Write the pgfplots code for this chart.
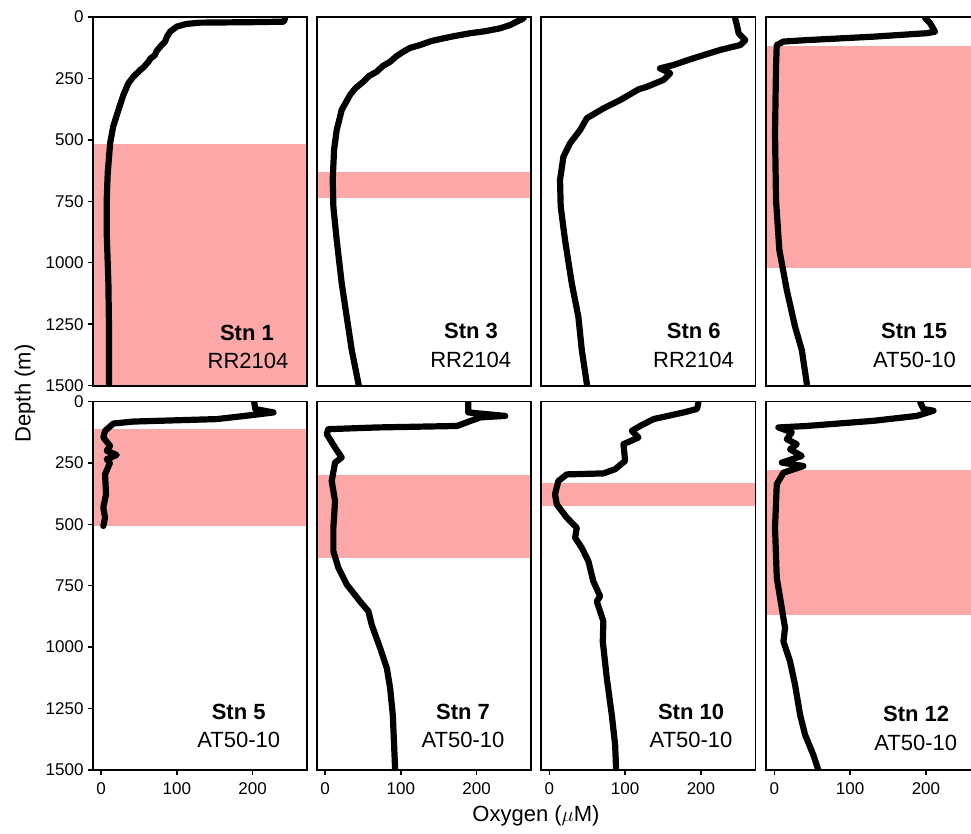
\documentclass[border=0pt]{standalone}
\usepackage{pgfplots}
\pgfplotsset{compat=1.18}
\usepackage{fontspec}
\setmainfont{Liberation Sans}

\definecolor{omz}{RGB}{252,168,169}

\pgfplotsset{
  panel/.style={
    scale only axis, width=214.5pt, height=368.6pt,
    anchor=south west,
    xmin=-11, xmax=272, ymin=0, ymax=1500, y dir=reverse,
    axis on top, clip=true,
    axis line style={line width=1.8pt, black},
    tick style={line width=1.4pt, black},
    tick align=outside, major tick length=5pt,
    xtick pos=bottom, ytick pos=left,
    xtick={0,100,200}, ytick={0,250,...,1500},
    /pgf/number format/assume math mode=true,
    /pgf/number format/1000 sep={},
    tick label style={font=\fontsize{17}{17}\selectfont, black},
    yticklabel style={inner sep=0pt, xshift=-4pt},
    xticklabel style={inner sep=0pt, yshift=-7pt},
  },
  inner/.style={xtick=\empty},
  noleft/.style={ytick=\empty},
  profile/.style={black, line width=6.2pt, line join=round, line cap=round},
  zone/.style={draw=none, fill=omz},
}
\newcommand{\stn}[5]{%
  \node[font=\fontsize{22}{22}\selectfont\bfseries] at (axis cs:#1,#2) {Stn #5};
  \node[font=\fontsize{22}{22}\selectfont] at (axis cs:#3,#4) {\csname stncruise\endcsname};}

\begin{document}
\begin{tikzpicture}
\useasboundingbox (0pt,0pt) rectangle (971pt,833pt);
\clip (0pt,0pt) rectangle (971pt,833pt);

% ---------------- top row ----------------
% Stn 1
\begin{axis}[panel, inner, at={(92.7pt,447.4pt)}]
\addplot[zone] coordinates {(-20,518) (300,518) (300,1500) (-20,1500)} -- cycle;
\addplot[profile] coordinates {
(243,5) (241,19) (200,21) (131,23) (113,28) (100,39) (91,60) (87,80)
(84.5,100) (78,121) (73,140) (71,155) (65,170) (62.5,182) (56,205) (51.5,216)
(42.7,243) (36,270) (29.5,317) (23,378) (16,446) (12,514) (8.8,636)
(7.5,745) (7.5,880) (9.7,1084) (10.6,1287) (10.6,1491) (10.4,1500)};
\node[font=\fontsize{22}{22}\selectfont\bfseries] at (axis cs:192.5,1284) {Stn 1};
\node[font=\fontsize{22}{22}\selectfont] at (axis cs:194,1400) {RR2104};
\end{axis}

% Stn 3
\begin{axis}[panel, inner, noleft, at={(316.7pt,447.4pt)}]
\addplot[zone] coordinates {(-20,632) (300,632) (300,735) (-20,735)} -- cycle;
\addplot[profile] coordinates {
(262,5) (244,33) (231,46) (211,58) (191.5,66) (170,78) (156,87) (140,98)
(125.5,114) (112,126) (103.5,141) (94,160) (86,182) (76,200) (68,223)
(58,240) (50.6,263) (40,290) (33,317) (22,378) (15.4,460) (11.9,541)
(10.1,663) (11,772) (15.4,908) (22,1084) (28.6,1220) (35.2,1355) (44,1491) (44.5,1500)};
\node[font=\fontsize{22}{22}\selectfont\bfseries] at (axis cs:192.6,1277) {Stn 3};
\node[font=\fontsize{22}{22}\selectfont] at (axis cs:192.2,1396) {RR2104};
\end{axis}

% Stn 6
\begin{axis}[panel, inner, noleft, at={(541pt,447.4pt)}]
\addplot[profile] coordinates {
(245,5) (247.5,33) (249.7,66) (258.5,94) (252,114) (225.5,134) (190,168)
(164,195) (146,209) (159.5,229) (150.6,256) (128.7,284) (118,294) (93.4,338)
(71.3,372) (49.4,412) (40.6,460) (27.3,514) (18.6,568) (14.1,663) (15,772)
(20.7,908) (29.6,1084) (38.3,1220) (42.8,1355) (49.4,1491) (49.6,1500)};
\node[font=\fontsize{22}{22}\selectfont\bfseries] at (axis cs:190.5,1277) {Stn 6};
\node[font=\fontsize{22}{22}\selectfont] at (axis cs:190.2,1396) {RR2104};
\end{axis}

% Stn 15
\begin{axis}[panel, inner, noleft, at={(766pt,447.4pt)}]
\addplot[zone] coordinates {(-20,118) (300,118) (300,1023) (-20,1023)} -- cycle;
\addplot[profile] coordinates {
(199,5) (205.7,26) (212,60) (201,66) (131,80) (42.8,94) (12,100) (3.2,114)
(2.2,202) (0.9,473) (2.2,745) (6.6,948) (16.4,1111) (27.3,1260) (36.2,1355)
(42.8,1491) (43,1500)};
\node[font=\fontsize{22}{22}\selectfont\bfseries] at (axis cs:184.5,1277) {Stn 15};
\node[font=\fontsize{22}{22}\selectfont] at (axis cs:185,1396) {AT50-10};
\end{axis}

% ---------------- bottom row ----------------
% Stn 5
\begin{axis}[panel, at={(92.7pt,63pt)}]
\addplot[zone] coordinates {(-20,113) (300,113) (300,507) (-20,507)} -- cycle;
\addplot[profile] coordinates {
(202,0) (203.4,31) (227.6,45) (201,55) (152.8,72) (42.7,82) (16.3,90)
(5.3,120) (3,147) (11.9,181) (7.5,201) (20.7,218) (7.5,235) (11.9,249)
(5.3,297) (6.6,378) (3,432) (5.3,473) (3,507)};
\node[font=\fontsize{22}{22}\selectfont\bfseries] at (axis cs:181.6,1262) {Stn 5};
\node[font=\fontsize{22}{22}\selectfont] at (axis cs:181.6,1378) {AT50-10};
\end{axis}

% Stn 7
\begin{axis}[panel, noleft, at={(316.7pt,63pt)}]
\addplot[zone] coordinates {(-20,301) (300,301) (300,638) (-20,638)} -- cycle;
\addplot[profile] coordinates {
(189,0) (189,45) (237.8,59) (204.8,65) (174,100) (68.3,106) (4.4,113)
(2.2,133) (13.2,188) (22,228) (13.2,249) (8.8,324) (13.2,406) (11,514)
(11,610) (17.6,677) (28.6,745) (46.2,814) (57.2,854) (61.6,909) (72.7,1004)
(81.5,1085) (85.9,1167) (89.4,1276) (91.1,1398) (92.5,1500)};
\node[font=\fontsize{22}{22}\selectfont\bfseries] at (axis cs:182,1262) {Stn 7};
\node[font=\fontsize{22}{22}\selectfont] at (axis cs:182,1378) {AT50-10};
\end{axis}

% Stn 10
\begin{axis}[panel, noleft, at={(541pt,63pt)}]
\addplot[zone] coordinates {(-20,333) (300,333) (300,427) (-20,427)} -- cycle;
\addplot[profile] coordinates {
(196.8,4) (194.7,31) (177,45) (137.4,72) (119.8,100) (108.8,120) (117.6,147)
(97.8,174) (100,242) (86.8,276) (71.3,293) (23,297) (11.9,324) (7.5,378)
(9.8,419) (23,473) (36.2,514) (34,555) (42.8,596) (51.5,650) (58,732)
(67,793) (62.6,814) (71.3,895) (70.5,977) (75.8,1126) (82.4,1276)
(86.8,1398) (88.1,1500)};
\node[font=\fontsize{22}{22}\selectfont\bfseries] at (axis cs:187,1262) {Stn 10};
\node[font=\fontsize{22}{22}\selectfont] at (axis cs:187,1378) {AT50-10};
\end{axis}

% Stn 12
\begin{axis}[panel, noleft, at={(766pt,63pt)}]
\addplot[zone] coordinates {(-20,280) (300,280) (300,870) (-20,870)} -- cycle;
\addplot[profile] coordinates {
(192.5,4) (196.8,31) (210,38) (188,59) (130.8,79) (42.8,100) (5.3,106)
(23,126) (16.4,154) (29.6,174) (20.7,195) (36.2,222) (9.8,249) (38.3,263)
(12,290) (3.2,337) (0.9,514) (3.2,718) (9.8,840) (14.1,922) (12,977)
(20.7,1058) (27.3,1153) (34,1276) (40.6,1357) (51.5,1439) (58.1,1500)};
\node[font=\fontsize{22}{22}\selectfont\bfseries] at (axis cs:187,1272) {Stn 12};
\node[font=\fontsize{22}{22}\selectfont] at (axis cs:186.5,1388) {AT50-10};
\end{axis}

% axis titles
\node[font=\fontsize{22}{22}\selectfont] at (536pt,17pt) {Oxygen ($\mu$M)};
\node[font=\fontsize{22}{22}\selectfont, rotate=90] at (25pt,439.5pt) {Depth (m)};
\end{tikzpicture}
\end{document}
